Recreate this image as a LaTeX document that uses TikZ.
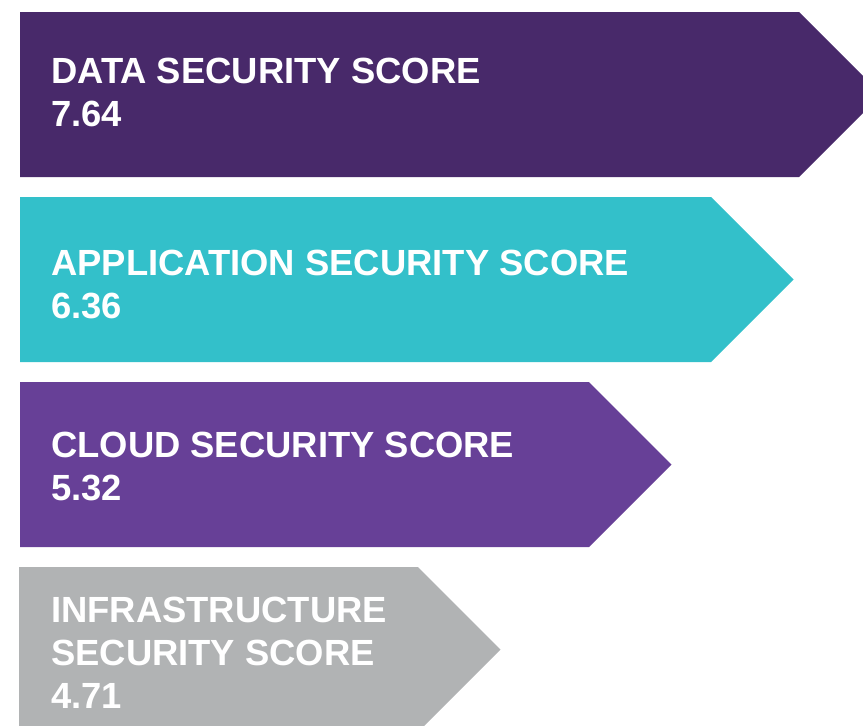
\documentclass[tikz,border=0pt]{standalone}
\usepackage{fontspec}
\setmainfont{Liberation Sans}
\usepackage{xcolor}
\definecolor{datapurple}{HTML}{48296A}
\definecolor{appteal}{HTML}{33C0CA}
\definecolor{cloudpurple}{HTML}{674097}
\definecolor{infragray}{HTML}{B1B3B4}

\begin{document}
\begin{tikzpicture}[x=1pt,y=-1pt,
    score/.style={anchor=base west,align=left,inner sep=0pt,text=white,font=\fontsize{36.4}{43}\selectfont\bfseries}]
    \useasboundingbox (0,0) rectangle (863,726);
    \clip (0,0) rectangle (863,726);
    \fill[datapurple] (20,12) -- (799,12) -- (881.5,94.5) -- (799,177) -- (20,177) -- cycle;
    \fill[appteal] (20,197) -- (711,197) -- (793.5,279.5) -- (711,362) -- (20,362) -- cycle;
    \fill[cloudpurple] (20,382) -- (589,382) -- (671.5,464.5) -- (589,547) -- (20,547) -- cycle;
    \fill[infragray] (19,567) -- (418,567) -- (500.5,649.5) -- (418,732) -- (19,732) -- cycle;
    % anchored on the baseline of the last line
    \node[score] (data) at (51,126) {DATA SECURITY SCORE\\7.64};
    \node[score] (app) at (51,318) {APPLICATION SECURITY SCORE\\6.36};
    \node[score] (cloud) at (51,500.5) {CLOUD SECURITY SCORE\\5.32};
    \node[score] (infra) at (51,708.3) {INFRASTRUCTURE\\SECURITY SCORE\\4.71};
\end{tikzpicture}
\end{document}
